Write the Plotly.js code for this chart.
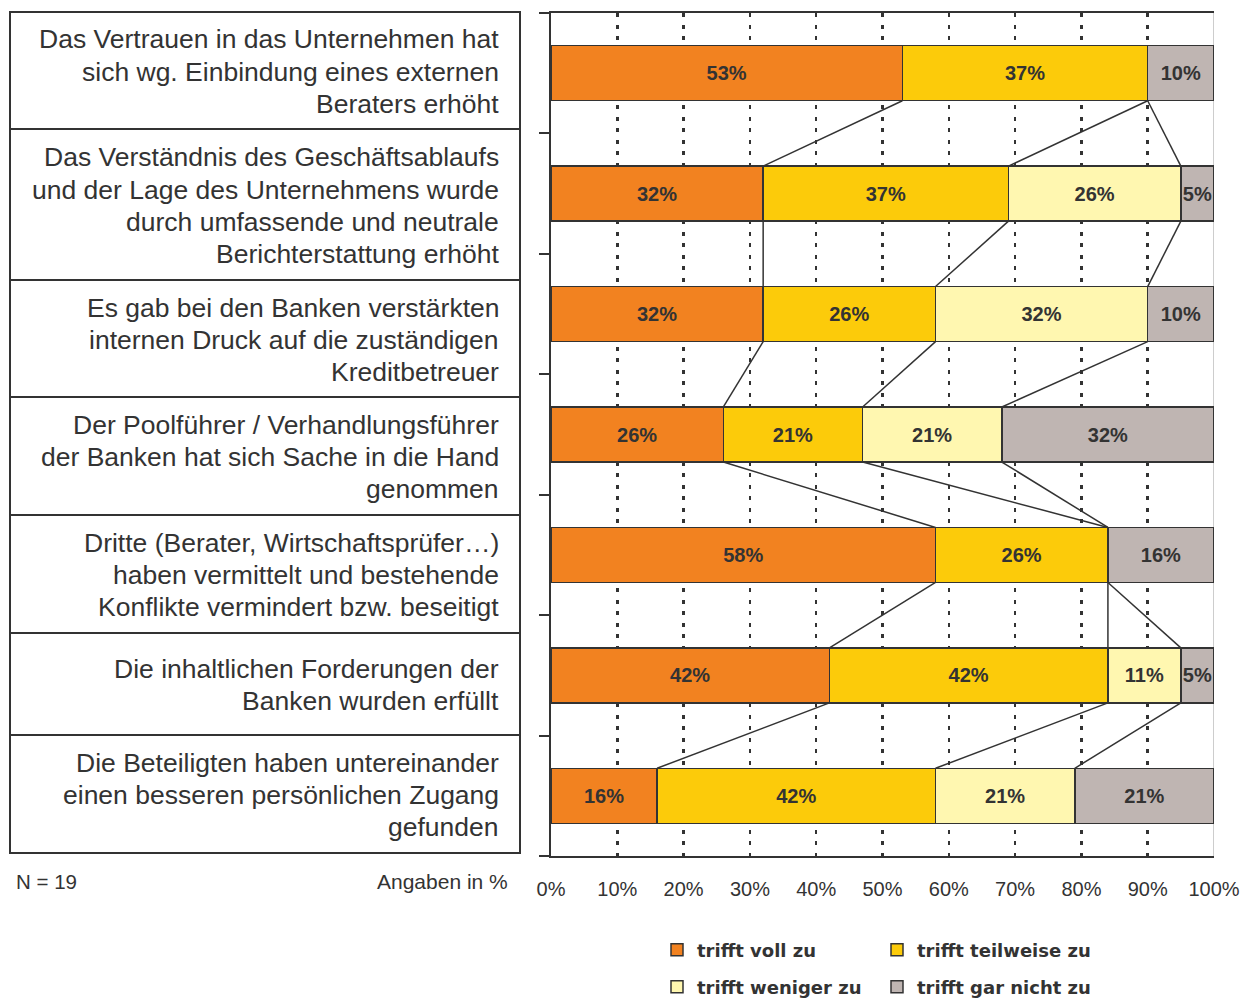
<!DOCTYPE html>
<html><head><meta charset="utf-8">
<script src="https://cdn.plot.ly/plotly-3.0.1.min.js"></script>
<style>html,body{margin:0;padding:0;background:#fff}</style>
</head><body><div id="chart" style="width:1252px;height:999px"></div>
<script>
// ---------- data ----------
const statements = [
  'Das Vertrauen in das Unternehmen hat<br>sich wg. Einbindung eines externen<br>Beraters erhöht',
  'Das Verständnis des Geschäftsablaufs<br>und der Lage des Unternehmens wurde<br>durch umfassende und neutrale<br>Berichterstattung erhöht',
  'Es gab bei den Banken verstärkten<br>internen Druck auf die zuständigen<br>Kreditbetreuer',
  'Der Poolführer / Verhandlungsführer<br>der Banken hat sich Sache in die Hand<br>genommen',
  'Dritte (Berater, Wirtschaftsprüfer…)<br>haben vermittelt und bestehende<br>Konflikte vermindert bzw. beseitigt',
  'Die inhaltlichen Forderungen der<br>Banken wurden erfüllt',
  'Die Beteiligten haben untereinander<br>einen besseren persönlichen Zugang<br>gefunden'
];
const seriesNames = ['trifft voll zu', 'trifft teilweise zu', 'trifft weniger zu', 'trifft gar nicht zu'];
const vollZu      = [53, 32, 32, 26, 58, 42, 16];
const teilweiseZu = [37, 37, 26, 21, 26, 42, 42];
const wenigerZu   = [ 0, 26, 32, 21,  0, 11, 21];
const garNichtZu  = [10,  5, 10, 32, 16,  5, 21];
const xTickValues = [0, 10, 20, 30, 40, 50, 60, 70, 80, 90, 100];
const xTickLabels = ['0%', '10%', '20%', '30%', '40%', '50%', '60%', '70%', '80%', '90%', '100%'];
const sampleNote = 'N = 19';
const unitNote = 'Angaben in %';

// ---------- layout helpers ----------
const W = 1252, H = 999;
const PL = 551, PR = 1214, PT = 13, PB = 856;
const px2x = p => (p - PL) / (PR - PL);
const py2y = p => (PB - p) / (PB - PT);
const boxEdges = [12, 129, 280, 397, 515, 633, 735, 853];
const linePitch = 32;
const seriesColors = ['#F28220', '#FCCB0A', '#FFF7B0', '#BFB5B2'];
const legendIds = ['legend', 'legend2', 'legend3', 'legend4'];
const legendPos = [[657, 950], [877, 950], [657, 987], [877, 987]];
const barW = 0.457;
const ink = '#333333';
const sans = '"Liberation Sans", Arial, sans-serif';

const allSeries = [vollZu, teilweiseZu, wenigerZu, garNichtZu];
const yPos = statements.map((_, i) => i);

const traces = allSeries.map((vals, k) => ({
  type: 'bar', orientation: 'h',
  x: vals, y: yPos, width: barW,
  name: seriesNames[k], legend: legendIds[k],
  marker: { color: seriesColors[k], line: { color: ink, width: 1.5 } },
  text: vals.map(v => v > 0 ? v + '%' : ''),
  textposition: 'inside', insidetextanchor: 'middle', textangle: 0,
  textfont: { family: '"Liberation Sans Narrow", "Arial Narrow", "Liberation Sans", sans-serif', size: 20, color: ink, weight: 'bold' },
  hoverinfo: 'skip'
}));

// connector (series) lines between cumulative boundaries
const cum = yPos.map(i => {
  let s = 0; return allSeries.map(arr => (s += arr[i]));
});
const cx = [], cy = [];
for (let k = 0; k < 3; k++) {
  for (let i = 0; i < yPos.length - 1; i++) {
    cx.push(cum[i][k], cum[i + 1][k], null);
    cy.push(yPos[i] + barW / 2, yPos[i + 1] - barW / 2, null);
  }
}
traces.push({
  type: 'scatter', mode: 'lines', x: cx, y: cy,
  line: { color: ink, width: 1.5 }, showlegend: false, hoverinfo: 'skip', cliponaxis: false
});

// ---------- shapes & annotations ----------
const shapes = [];
const annotations = [];
for (let i = 0; i < statements.length; i++) {
  shapes.push({
    type: 'rect', xref: 'paper', yref: 'paper',
    x0: px2x(10), x1: px2x(520), y0: py2y(boxEdges[i + 1]), y1: py2y(boxEdges[i]),
    line: { color: ink, width: 2 }, fillcolor: 'rgba(0,0,0,0)'
  });
  const lines = statements[i].split('<br>');
  const mid = (boxEdges[i] + boxEdges[i + 1]) / 2 + 1;
  lines.forEach((ln, j) => {
    annotations.push({
      xref: 'paper', yref: 'paper', x: px2x(501), y: py2y(mid + (j - (lines.length - 1) / 2) * linePitch),
      xanchor: 'right', yanchor: 'middle', align: 'right', showarrow: false,
      text: ln,
      font: { family: sans, size: 26.5, color: ink }
    });
  });
}
// right border of plot
shapes.push({ type: 'line', xref: 'x', yref: 'paper', x0: 100, x1: 100, y0: 0, y1: 1,
  line: { color: '#9a9a9a', width: 1 }, layer: 'below' });

annotations.push({ xref: 'paper', yref: 'paper', x: px2x(14), y: py2y(882), xanchor: 'left', yanchor: 'middle',
  showarrow: false, text: sampleNote, font: { family: sans, size: 20.5, color: ink } });
annotations.push({ xref: 'paper', yref: 'paper', x: px2x(510), y: py2y(882), xanchor: 'right', yanchor: 'middle',
  showarrow: false, text: unitNote, font: { family: sans, size: 21, color: ink } });

const layout = {
  width: W, height: H,
  margin: { l: PL, r: W - PR, t: PT, b: H - PB, autoexpand: false },
  paper_bgcolor: '#fff', plot_bgcolor: 'rgba(0,0,0,0)',
  barmode: 'stack', bargap: 0,
  showlegend: true,
  uniformtext: { mode: 'show', minsize: 20 },
  xaxis: {
    range: [0, 100], tickvals: xTickValues, ticktext: xTickLabels,
    showgrid: true, gridcolor: ink, gridwidth: 2.5, griddash: '4px,7.5px',
    zeroline: false, showline: true, linecolor: ink, linewidth: 2, mirror: true,
    ticks: '', ticklabelstandoff: 14,
    tickfont: { family: sans, size: 20, color: ink },
    fixedrange: true
  },
  yaxis: {
    range: [6.5, -0.5], tickvals: [-0.5, 0.5, 1.5, 2.5, 3.5, 4.5, 5.5, 6.5],
    showticklabels: false, ticks: 'outside', ticklen: 10, tickwidth: 2, tickcolor: ink,
    showline: true, linecolor: ink, linewidth: 2, showgrid: false, zeroline: false, fixedrange: true
  },
  shapes: shapes,
  annotations: annotations
};
legendIds.forEach((id, k) => {
  layout[id] = {
    xref: 'container', yref: 'container',
    x: legendPos[k][0] / W, y: 1 - legendPos[k][1] / H,
    xanchor: 'left', yanchor: 'middle', itemwidth: 30,
    bgcolor: 'rgba(0,0,0,0)', borderwidth: 0,
    font: { family: '"DejaVu Sans", sans-serif', size: 18, color: ink, weight: 'bold' }
  };
});

Plotly.newPlot('chart', traces, layout, { staticPlot: true, displayModeBar: false });
</script>
</body></html>
